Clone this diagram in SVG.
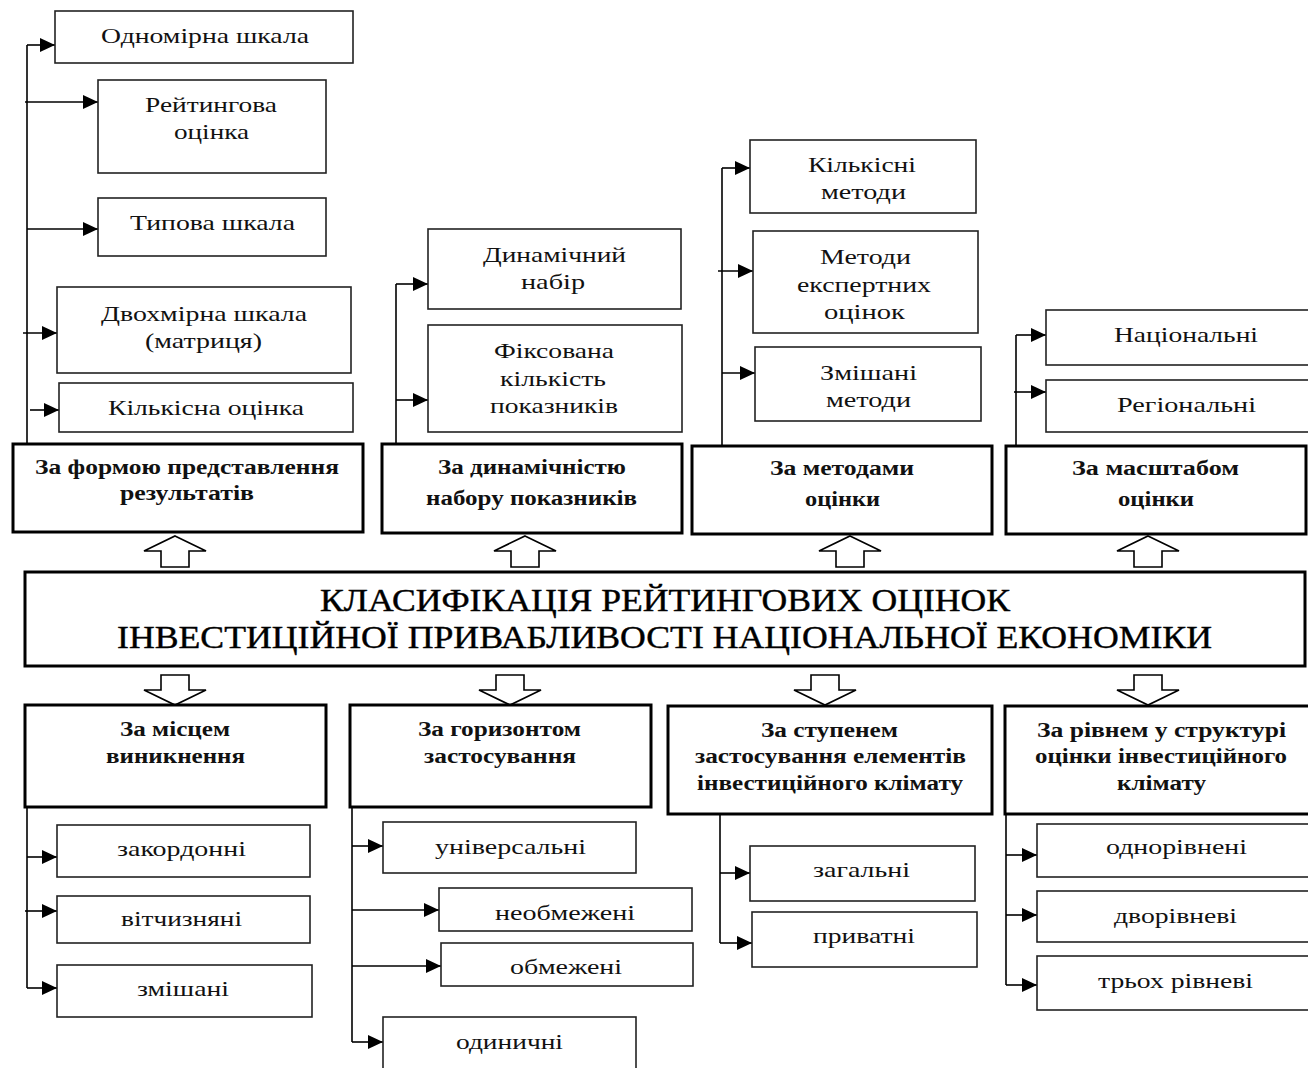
<svg xmlns="http://www.w3.org/2000/svg" width="1308" height="1068" viewBox="0 0 1308 1068" font-family="'Liberation Serif', 'DejaVu Serif', serif">
<style>
.bg{fill:#fff}
.c{fill:#fff;stroke:#222;stroke-width:1.6}
.h{fill:#fff;stroke:#000;stroke-width:3}
text{font-family:'Liberation Serif','DejaVu Serif',serif}
.t{font-size:22px;fill:#111}
.b{font-size:20px;font-weight:bold;fill:#111}
.m{font-size:31px;fill:#000;stroke:#000;stroke-width:0.4}
.ln{fill:none;stroke:#000;stroke-width:1.6;marker-end:url(#ah)}
.pl{fill:none;stroke:#000;stroke-width:1.6}
.ba{fill:#fff;stroke:#000;stroke-width:1.6;stroke-linejoin:miter}
</style>
<defs>
<marker id="ah" markerUnits="userSpaceOnUse" markerWidth="15" markerHeight="14" refX="15" refY="7" orient="auto">
<path d="M0,0 L15,7 L0,14 z" fill="#000"/>
</marker>
</defs>
<rect class="bg" x="0" y="0" width="1308" height="1068"/>

<g id="connectors">
<path class="pl" d="M27,444 V45"/>
<path class="ln" d="M27,45 H55"/>
<path class="ln" d="M25,102 H98"/>
<path class="ln" d="M27,229 H98"/>
<path class="ln" d="M23,333 H57"/>
<path class="ln" d="M30,410 H59"/>

<path class="pl" d="M396,444 V284"/>
<path class="ln" d="M396,284 H428"/>
<path class="ln" d="M396,400 H428"/>

<path class="pl" d="M722,446 V168"/>
<path class="ln" d="M722,168 H750"/>
<path class="ln" d="M718,271 H753"/>
<path class="ln" d="M722,373 H755"/>

<path class="pl" d="M1016,446 V335"/>
<path class="ln" d="M1016,335 H1046"/>
<path class="ln" d="M1014,392 H1046"/>

<path class="pl" d="M27,807 V988"/>
<path class="ln" d="M27,857 H57"/>
<path class="ln" d="M25,911 H57"/>
<path class="ln" d="M27,988 H57"/>

<path class="pl" d="M352,807 V1042"/>
<path class="ln" d="M352,846 H383"/>
<path class="ln" d="M352,910 H439"/>
<path class="ln" d="M352,966 H441"/>
<path class="ln" d="M352,1042 H383"/>

<path class="pl" d="M720,814 V943"/>
<path class="ln" d="M720,873 H750"/>
<path class="ln" d="M720,943 H752"/>

<path class="pl" d="M1006,814 V985"/>
<path class="ln" d="M1006,855 H1037"/>
<path class="ln" d="M1006,915 H1037"/>
<path class="ln" d="M1006,985 H1037"/>

<polygon class="ba" points="175,536 206,551 189,551 189,567 161,567 161,551 144,551"/>
<polygon class="ba" points="525,536 556,551 539,551 539,567 511,567 511,551 494,551"/>
<polygon class="ba" points="850,536 881,551 864,551 864,567 836,567 836,551 819,551"/>
<polygon class="ba" points="1148,536 1179,551 1162,551 1162,567 1134,567 1134,551 1117,551"/>

<polygon class="ba" points="161,675 189,675 189,690 206,690 175,705 144,690 161,690"/>
<polygon class="ba" points="496,675 524,675 524,690 541,690 510,705 479,690 496,690"/>
<polygon class="ba" points="811,675 839,675 839,690 856,690 825,705 794,690 811,690"/>
<polygon class="ba" points="1134,675 1162,675 1162,690 1179,690 1148,705 1117,690 1134,690"/>
</g>

<g id="n-center">
<rect class="h" x="25" y="572" width="1280" height="94"/>
<text class="m" x="320" y="611" textLength="690" lengthAdjust="spacingAndGlyphs">КЛАСИФІКАЦІЯ РЕЙТИНГОВИХ ОЦІНОК</text>
<text class="m" x="117" y="648" textLength="1095" lengthAdjust="spacingAndGlyphs">ІНВЕСТИЦІЙНОЇ  ПРИВАБЛИВОСТІ НАЦІОНАЛЬНОЇ ЕКОНОМІКИ</text>
</g>

<g id="n-forma">
<rect class="h" x="13" y="444" width="350" height="88"/>
<text class="b" x="35" y="474" textLength="304" lengthAdjust="spacingAndGlyphs">За формою представлення</text>
<text class="b" x="120" y="500" textLength="134" lengthAdjust="spacingAndGlyphs">результатів</text>
</g>
<g id="n-odnomirna">
<rect class="c" x="55" y="11" width="298" height="52"/>
<text class="t" x="101" y="43" textLength="208" lengthAdjust="spacingAndGlyphs">Одномірна шкала</text>
</g>
<g id="n-reitynhova">
<rect class="c" x="98" y="80" width="228" height="93"/>
<text class="t" x="145" y="112" textLength="132" lengthAdjust="spacingAndGlyphs">Рейтингова</text>
<text class="t" x="174" y="139" textLength="75" lengthAdjust="spacingAndGlyphs">оцінка</text>
</g>
<g id="n-typova">
<rect class="c" x="98" y="198" width="228" height="58"/>
<text class="t" x="130" y="230" textLength="165" lengthAdjust="spacingAndGlyphs">Типова шкала</text>
</g>
<g id="n-dvokhmirna">
<rect class="c" x="57" y="287" width="294" height="86"/>
<text class="t" x="101" y="321" textLength="206" lengthAdjust="spacingAndGlyphs">Двохмірна шкала</text>
<text class="t" x="145" y="348" textLength="117" lengthAdjust="spacingAndGlyphs">(матриця)</text>
</g>
<g id="n-kilkisna">
<rect class="c" x="59" y="383" width="294" height="49"/>
<text class="t" x="108" y="415" textLength="196" lengthAdjust="spacingAndGlyphs">Кількісна оцінка</text>
</g>

<g id="n-dynamichnist">
<rect class="h" x="382" y="444" width="300" height="89"/>
<text class="b" x="438" y="474" textLength="188" lengthAdjust="spacingAndGlyphs">За динамічністю</text>
<text class="b" x="426" y="505" textLength="211" lengthAdjust="spacingAndGlyphs">набору показників</text>
</g>
<g id="n-dynamichnyi">
<rect class="c" x="428" y="229" width="253" height="80"/>
<text class="t" x="483" y="262" textLength="143" lengthAdjust="spacingAndGlyphs">Динамічний</text>
<text class="t" x="521" y="289" textLength="64" lengthAdjust="spacingAndGlyphs">набір</text>
</g>
<g id="n-fiksovana">
<rect class="c" x="428" y="325" width="254" height="107"/>
<text class="t" x="494" y="358" textLength="120" lengthAdjust="spacingAndGlyphs">Фіксована</text>
<text class="t" x="500" y="386" textLength="106" lengthAdjust="spacingAndGlyphs">кількість</text>
<text class="t" x="490" y="413" textLength="128" lengthAdjust="spacingAndGlyphs">показників</text>
</g>

<g id="n-metody">
<rect class="h" x="692" y="446" width="300" height="88"/>
<text class="b" x="770" y="475" textLength="144" lengthAdjust="spacingAndGlyphs">За методами</text>
<text class="b" x="805" y="506" textLength="75" lengthAdjust="spacingAndGlyphs">оцінки</text>
</g>
<g id="n-kilkisni">
<rect class="c" x="750" y="140" width="226" height="73"/>
<text class="t" x="808" y="172" textLength="108" lengthAdjust="spacingAndGlyphs">Кількісні</text>
<text class="t" x="821" y="199" textLength="85" lengthAdjust="spacingAndGlyphs">методи</text>
</g>
<g id="n-ekspertni">
<rect class="c" x="753" y="231" width="225" height="102"/>
<text class="t" x="820" y="264" textLength="91" lengthAdjust="spacingAndGlyphs">Методи</text>
<text class="t" x="797" y="292" textLength="134" lengthAdjust="spacingAndGlyphs">експертних</text>
<text class="t" x="824" y="319" textLength="81" lengthAdjust="spacingAndGlyphs">оцінок</text>
</g>
<g id="n-zmishani-metody">
<rect class="c" x="755" y="347" width="226" height="74"/>
<text class="t" x="820" y="380" textLength="97" lengthAdjust="spacingAndGlyphs">Змішані</text>
<text class="t" x="826" y="407" textLength="85" lengthAdjust="spacingAndGlyphs">методи</text>
</g>

<g id="n-masshtab">
<rect class="h" x="1006" y="446" width="300" height="88"/>
<text class="b" x="1072" y="475" textLength="167" lengthAdjust="spacingAndGlyphs">За масштабом</text>
<text class="b" x="1118" y="506" textLength="76" lengthAdjust="spacingAndGlyphs">оцінки</text>
</g>
<g id="n-natsionalni">
<rect class="c" x="1046" y="310" width="266" height="55"/>
<text class="t" x="1114" y="342" textLength="144" lengthAdjust="spacingAndGlyphs">Національні</text>
</g>
<g id="n-rehionalni">
<rect class="c" x="1046" y="380" width="266" height="52"/>
<text class="t" x="1117" y="412" textLength="139" lengthAdjust="spacingAndGlyphs">Регіональні</text>
</g>

<g id="n-mistse">
<rect class="h" x="25" y="705" width="301" height="102"/>
<text class="b" x="120" y="736" textLength="110" lengthAdjust="spacingAndGlyphs">За місцем</text>
<text class="b" x="106" y="763" textLength="139" lengthAdjust="spacingAndGlyphs">виникнення</text>
</g>
<g id="n-zakordonni">
<rect class="c" x="57" y="825" width="253" height="52"/>
<text class="t" x="117" y="856" textLength="129" lengthAdjust="spacingAndGlyphs">закордонні</text>
</g>
<g id="n-vitchyzniani">
<rect class="c" x="57" y="896" width="253" height="47"/>
<text class="t" x="121" y="926" textLength="121" lengthAdjust="spacingAndGlyphs">вітчизняні</text>
</g>
<g id="n-zmishani">
<rect class="c" x="57" y="965" width="255" height="52"/>
<text class="t" x="137" y="996" textLength="92" lengthAdjust="spacingAndGlyphs">змішані</text>
</g>

<g id="n-horyzont">
<rect class="h" x="350" y="705" width="301" height="102"/>
<text class="b" x="418" y="736" textLength="163" lengthAdjust="spacingAndGlyphs">За горизонтом</text>
<text class="b" x="424" y="763" textLength="152" lengthAdjust="spacingAndGlyphs">застосування</text>
</g>
<g id="n-universalni">
<rect class="c" x="383" y="822" width="253" height="51"/>
<text class="t" x="435" y="854" textLength="151" lengthAdjust="spacingAndGlyphs">універсальні</text>
</g>
<g id="n-neobmezheni">
<rect class="c" x="439" y="888" width="253" height="43"/>
<text class="t" x="495" y="920" textLength="140" lengthAdjust="spacingAndGlyphs">необмежені</text>
</g>
<g id="n-obmezheni">
<rect class="c" x="441" y="943" width="252" height="43"/>
<text class="t" x="510" y="974" textLength="112" lengthAdjust="spacingAndGlyphs">обмежені</text>
</g>
<g id="n-odynychni">
<rect class="c" x="383" y="1017" width="253" height="60"/>
<text class="t" x="456" y="1049" textLength="107" lengthAdjust="spacingAndGlyphs">одиничні</text>
</g>

<g id="n-stupin">
<rect class="h" x="668" y="706" width="324" height="108"/>
<text class="b" x="761" y="737" textLength="137" lengthAdjust="spacingAndGlyphs">За ступенем</text>
<text class="b" x="695" y="763" textLength="271" lengthAdjust="spacingAndGlyphs">застосування елементів</text>
<text class="b" x="697" y="790" textLength="266" lengthAdjust="spacingAndGlyphs">інвестиційного клімату</text>
</g>
<g id="n-zahalni">
<rect class="c" x="750" y="846" width="225" height="55"/>
<text class="t" x="813" y="877" textLength="97" lengthAdjust="spacingAndGlyphs">загальні</text>
</g>
<g id="n-pryvatni">
<rect class="c" x="752" y="912" width="225" height="55"/>
<text class="t" x="813" y="943" textLength="102" lengthAdjust="spacingAndGlyphs">приватні</text>
</g>

<g id="n-riven">
<rect class="h" x="1005" y="706" width="310" height="108"/>
<text class="b" x="1037" y="737" textLength="249" lengthAdjust="spacingAndGlyphs">За рівнем у структурі</text>
<text class="b" x="1035" y="763" textLength="252" lengthAdjust="spacingAndGlyphs">оцінки інвестиційного</text>
<text class="b" x="1117" y="790" textLength="89" lengthAdjust="spacingAndGlyphs">клімату</text>
</g>
<g id="n-odnorivneni">
<rect class="c" x="1037" y="824" width="275" height="53"/>
<text class="t" x="1106" y="854" textLength="141" lengthAdjust="spacingAndGlyphs">однорівнені</text>
</g>
<g id="n-dvorivnevi">
<rect class="c" x="1037" y="891" width="275" height="51"/>
<text class="t" x="1114" y="923" textLength="123" lengthAdjust="spacingAndGlyphs">дворівневі</text>
</g>
<g id="n-trokhrivnevi">
<rect class="c" x="1037" y="956" width="275" height="54"/>
<text class="t" x="1098" y="988" textLength="155" lengthAdjust="spacingAndGlyphs">трьох рівневі</text>
</g>
</svg>
